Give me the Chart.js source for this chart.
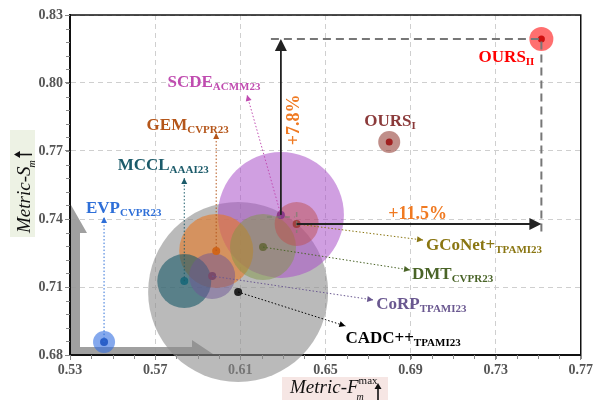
<!DOCTYPE html>
<html>
<head>
<meta charset="utf-8">
<script src="https://cdn.jsdelivr.net/npm/chart.js@4"></script>
<style>
  html, body { margin: 0; padding: 0; background: #fff; }
  #wrap { width: 595px; height: 400px; }
</style>
</head>
<body>
<div id="wrap"><canvas id="chart" width="595" height="400"></canvas></div>
<script>
// model names, venues and scores
const methods = ['CADC++', 'SCDE', 'GEM', 'MCCL', 'CoRP', 'DMT', 'GCoNet+', 'EVP', 'OURS', 'OURS'];
const venues = ['TPAMI23', 'ACMM23', 'CVPR23', 'AAAI23', 'TPAMI23', 'CVPR23', 'TPAMI23', 'CVPR23', 'I', 'II'];
const fmax = [0.609, 0.6291, 0.5987, 0.5837, 0.5968, 0.6207, 0.6365, 0.546, 0.680, 0.7515];
const sm = [0.7078, 0.7418, 0.7259, 0.7126, 0.7148, 0.7276, 0.7378, 0.6857, 0.774, 0.8194];
const size = [90, 63, 37, 27, 23, 33, 22, 11, 11, 12];

const xTicks = [0.53, 0.57, 0.61, 0.65, 0.69, 0.73, 0.77];
const yTicks = [0.68, 0.71, 0.74, 0.77, 0.80, 0.83];

// colours per method
const fillCol = ['rgba(140,140,140,0.6)', 'rgba(170,80,200,0.55)', 'rgba(232,120,35,0.6)', 'rgba(25,90,105,0.6)',
  'rgba(110,85,150,0.5)', 'rgba(130,150,70,0.5)', 'rgba(190,80,80,0.5)', 'rgba(50,110,225,0.6)',
  'rgba(140,50,40,0.55)', 'rgba(255,50,50,0.7)'];
const dotCol = ['#222', '#8a3a8a', '#d0651a', '#1e6a7a', '#7a4a6a', '#6a6a40', '#a04040', '#2a5fc8', '#a02020', '#d01010'];
const textCol = ['#000', '#c04cb0', '#b5561a', '#1c5b6a', '#6a5890', '#4a6428', '#8a7612', '#2e6fd8', '#8b3a3a', '#ff0000'];

// label anchors (data units) and arrow targets
const labelAt = [[0.6594, 0.6853], [0.5758, 0.7982], [0.566, 0.7793], [0.5524, 0.7616], [0.6739, 0.7003],
  [0.6907, 0.7135], [0.6973, 0.7263], [0.5375, 0.7426], [0.6683, 0.781], [0.722, 0.8092]];
const arrowTo = [[0.6594, 0.6928], [0.6132, 0.7947], [0.5987, 0.7779], [0.5837, 0.7581], [0.6725, 0.7043],
  [0.6898, 0.7175], [0.6959, 0.7307], [0.546, 0.7409], null, null];

const serif = '"Liberation Serif", "DejaVu Serif", serif';

// the bubbles may spill past the axes, do not shrink the plot for them
Chart.BubbleController.prototype.getMaxOverflow = function () { return 0; };

function arrowHead(ctx, x1, y1, x2, y2, len, w, col) {
  const a = Math.atan2(y2 - y1, x2 - x1);
  ctx.save();
  ctx.fillStyle = col;
  ctx.translate(x2, y2);
  ctx.rotate(a);
  ctx.beginPath();
  ctx.moveTo(0, 0);
  ctx.lineTo(-len, -w);
  ctx.lineTo(-len, w);
  ctx.closePath();
  ctx.fill();
  ctx.restore();
}

function richLabel(ctx, main, sub, x, y, col, size, subSize) {
  ctx.fillStyle = col;
  ctx.textAlign = 'left';
  ctx.textBaseline = 'alphabetic';
  ctx.font = 'bold ' + size + 'px ' + serif;
  ctx.fillText(main, x, y);
  const w = ctx.measureText(main).width;
  ctx.font = 'bold ' + subSize + 'px ' + serif;
  ctx.fillText(sub, x + w, y + 3);
}

const overlay = {
  id: 'overlay',
  beforeDatasetsDraw(chart) {
    const ctx = chart.ctx, xs = chart.scales.x, ys = chart.scales.y, ca = chart.chartArea;
    ctx.save();
    // minor ticks
    ctx.strokeStyle = '#888';
    ctx.lineWidth = 1;
    for (let v = 0.53; v <= 0.7701; v += 0.01) {
      const p = Math.round(xs.getPixelForValue(v)) + 0.5;
      ctx.beginPath(); ctx.moveTo(p, ca.bottom); ctx.lineTo(p, ca.bottom + 4); ctx.stroke();
    }
    for (let v = 0.68; v <= 0.8301; v += 0.006) {
      const p = Math.round(ys.getPixelForValue(v)) + 0.5;
      ctx.beginPath(); ctx.moveTo(ca.left - 4, p); ctx.lineTo(ca.left, p); ctx.stroke();
    }
    // big grey corner arrow
    const L = ca.left, B = ca.bottom;
    ctx.fillStyle = 'rgba(150,150,150,0.9)';
    ctx.beginPath();
    ctx.moveTo(L + 1, 205);
    ctx.lineTo(L + 17, 233);
    ctx.lineTo(L + 10, 233);
    ctx.lineTo(L + 10, B - 8);
    ctx.lineTo(192, B - 8);
    ctx.lineTo(192, B - 15);
    ctx.lineTo(213, B - 1);
    ctx.lineTo(L + 1, B - 1);
    ctx.closePath();
    ctx.fill();
    ctx.restore();
  },
  afterDatasetsDraw(chart) {
    const ctx = chart.ctx, xs = chart.scales.x, ys = chart.scales.y, ca = chart.chartArea;
    const px = v => xs.getPixelForValue(v), py = v => ys.getPixelForValue(v);
    ctx.save();
    // top and right frame
    ctx.strokeStyle = '#111';
    ctx.lineWidth = 1.5;
    ctx.beginPath();
    ctx.moveTo(ca.left, ca.top); ctx.lineTo(ca.right, ca.top); ctx.lineTo(ca.right, ca.bottom);
    ctx.stroke();

    // dotted arrows to labels
    ctx.lineWidth = 1;
    for (let i = 0; i < methods.length; i++) {
      if (!arrowTo[i]) continue;
      const x1 = px(fmax[i]), y1 = py(sm[i]), x2 = px(arrowTo[i][0]), y2 = py(arrowTo[i][1]);
      ctx.strokeStyle = textCol[i];
      ctx.setLineDash([1.5, 2]);
      ctx.beginPath(); ctx.moveTo(x1, y1); ctx.lineTo(x2, y2); ctx.stroke();
      ctx.setLineDash([]);
      arrowHead(ctx, x1, y1, x2, y2, 6, 3, textCol[i]);
    }

    // improvement guides
    const sx = px(fmax[1]), syy = py(sm[1]);
    const gx = px(fmax[6]), gy = py(sm[6]);
    const ox = px(fmax[9]), oy = py(sm[9]);
    ctx.strokeStyle = '#777';
    ctx.lineWidth = 2;
    ctx.setLineDash([8, 5]);
    ctx.beginPath();
    ctx.moveTo(sx - 10, oy); ctx.lineTo(ox, oy); ctx.lineTo(ox, gy + 11);
    ctx.stroke();
    ctx.strokeStyle = 'rgba(120,130,110,0.7)';
    ctx.lineWidth = 1.5;
    ctx.setLineDash([5, 4]);
    ctx.beginPath();
    ctx.moveTo(sx - 14, syy + 2); ctx.lineTo(gx - 2, syy + 2);
    ctx.moveTo(gx, syy - 3); ctx.lineTo(gx, gy + 9);
    ctx.stroke();
    ctx.setLineDash([]);

    ctx.strokeStyle = '#222';
    ctx.lineWidth = 1.8;
    ctx.beginPath(); ctx.moveTo(sx, syy); ctx.lineTo(sx, oy + 10); ctx.stroke();
    arrowHead(ctx, sx, syy, sx, oy, 12, 6, '#222');
    ctx.beginPath(); ctx.moveTo(gx, gy); ctx.lineTo(ox - 10, gy); ctx.stroke();
    arrowHead(ctx, gx, gy, ox, gy, 12, 6, '#222');

    // percentage labels
    ctx.fillStyle = '#f07a22';
    ctx.font = 'bold 18px ' + serif;
    ctx.textAlign = 'left';
    ctx.fillText('+11.5%', px(0.6795), py(0.74));
    ctx.save();
    ctx.translate(px(0.6352), py(0.7837));
    ctx.rotate(-Math.PI / 2);
    ctx.textAlign = 'center';
    ctx.textBaseline = 'middle';
    ctx.fillText('+7.8%', 0, 0);
    ctx.restore();

    // method labels
    for (let i = 0; i < methods.length; i++) {
      richLabel(ctx, methods[i], venues[i], px(labelAt[i][0]), py(labelAt[i][1]), textCol[i], 17, 11);
    }

    // axis titles
    ctx.fillStyle = '#f6e6e4';
    ctx.fillRect(282, 377, 106, 23);
    ctx.fillStyle = '#111';
    ctx.textAlign = 'left';
    ctx.textBaseline = 'alphabetic';
    ctx.font = 'italic 19px ' + serif;
    ctx.fillText('Metric-F', 290, 393);
    let w = ctx.measureText('Metric-F').width;
    ctx.font = '11px ' + serif;
    ctx.fillText('max', 290 + w, 384);
    ctx.font = 'italic 10px ' + serif;
    ctx.fillText('m', 290 + w - 2, 400);
    ctx.strokeStyle = '#111';
    ctx.lineWidth = 1.6;
    ctx.beginPath(); ctx.moveTo(378, 400); ctx.lineTo(378, 388); ctx.stroke();
    arrowHead(ctx, 378, 392, 378, 383, 6, 3.5, '#111');

    ctx.fillStyle = '#edf2e4';
    ctx.fillRect(10, 130, 25, 107);
    ctx.save();
    ctx.translate(30, 233);
    ctx.rotate(-Math.PI / 2);
    ctx.fillStyle = '#111';
    ctx.font = 'italic 19px ' + serif;
    ctx.fillText('Metric-S', 0, 0);
    w = ctx.measureText('Metric-S').width;
    ctx.font = 'italic 10px ' + serif;
    ctx.fillText('m', w - 1, 5);
    ctx.beginPath(); ctx.moveTo(w + 12, 2); ctx.lineTo(w + 12, -10); ctx.stroke();
    arrowHead(ctx, w + 12, -4, w + 12, -16, 6, 3.5, '#111');
    ctx.restore();
    ctx.restore();
  }
};

const points = fmax.map((x, i) => ({ x: x, y: sm[i], r: size[i] }));
const dots = fmax.map((x, i) => ({ x: x, y: sm[i], r: i >= 8 ? 3.5 : 4 }));

new Chart(document.getElementById('chart'), {
  type: 'bubble',
  data: {
    datasets: [
      { data: dots, backgroundColor: dotCol, borderWidth: 0, order: 0, clip: false },
      { data: points, backgroundColor: fillCol, borderWidth: 0, order: 1, clip: false }
    ]
  },
  options: {
    responsive: false,
    animation: false,
    layout: { padding: { left: 0, right: 12, top: 15, bottom: 0 } },
    plugins: { legend: { display: false }, tooltip: { enabled: false } },
    scales: {
      x: {
        type: 'linear', min: 0.53, max: 0.77,
        afterBuildTicks: s => { s.ticks = xTicks.map(v => ({ value: v })); },
        afterFit: s => { s.height = 45; },
        border: { color: '#111', width: 2, dash: [5, 4] },
        grid: { color: '#cfcfcf', lineWidth: 1, tickLength: 5, tickColor: '#888' },
        ticks: {
          color: '#555', padding: 2, maxRotation: 0,
          font: { family: serif, size: 14, weight: 'bold' },
          callback: v => v.toFixed(2)
        }
      },
      y: {
        type: 'linear', min: 0.68, max: 0.83,
        afterBuildTicks: s => { s.ticks = yTicks.map(v => ({ value: v })); },
        afterFit: s => { s.width = 70; },
        border: { color: '#111', width: 2, dash: [5, 4] },
        grid: { color: '#cfcfcf', lineWidth: 1, tickLength: 5, tickColor: '#888' },
        ticks: {
          color: '#555', padding: 2,
          font: { family: serif, size: 14, weight: 'bold' },
          callback: v => v.toFixed(2)
        }
      }
    }
  },
  plugins: [overlay]
});
</script>
</body>
</html>
